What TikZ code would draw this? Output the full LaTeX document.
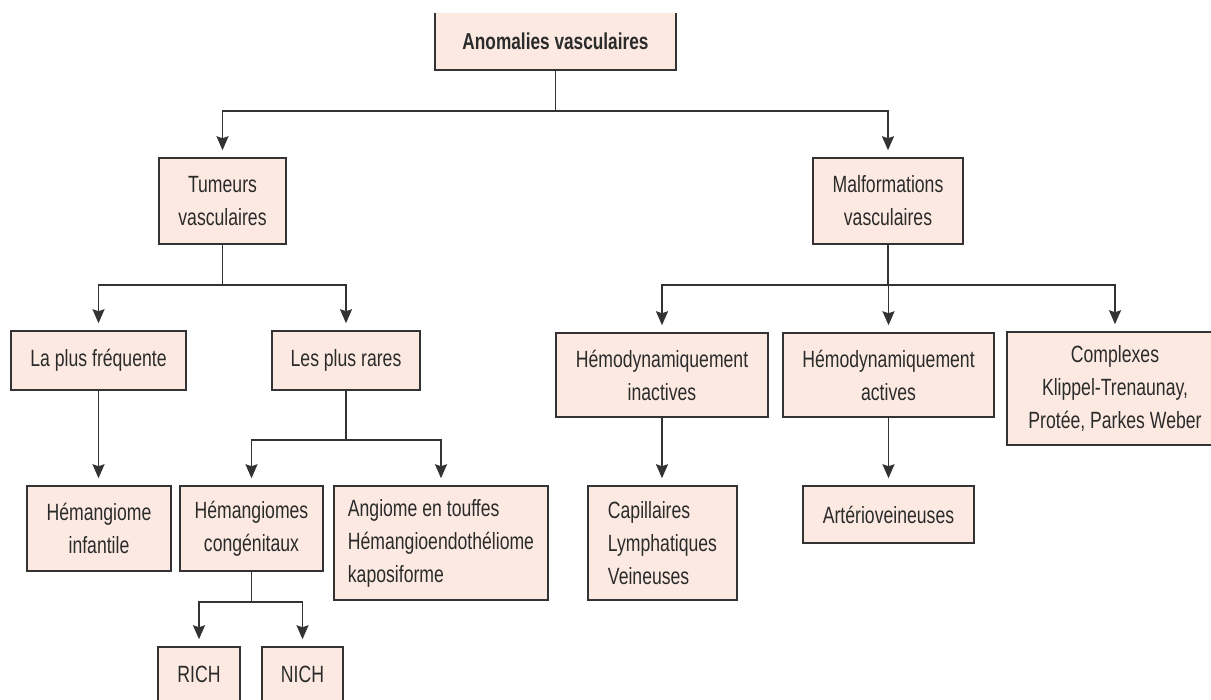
\documentclass[tikz,border=0pt]{standalone}
\usepackage{fontspec}
\setmainfont{Liberation Sans}[FakeStretch=0.75]
\usetikzlibrary{arrows.meta}
\definecolor{boxfill}{HTML}{FCEAE2}
\definecolor{linec}{HTML}{333333}
\definecolor{textc}{HTML}{2B2B2B}
\tikzset{
  box/.style={draw=linec, line width=1.5pt, fill=boxfill, text=textc, inner sep=0pt,
    align=center, font=\fontsize{23.5}{33}\selectfont},
  lbox/.style={box, align=left},
  conn/.style={draw=linec, line width=1.6pt},
  arr/.style={conn, -{Stealth[length=14pt,width=12pt,inset=2pt]}, shorten >=7pt},
}
\begin{document}
\begin{tikzpicture}[x=1pt,y=-1pt]
\useasboundingbox (0,0) rectangle (1211,700);

\begin{scope}
  \clip (0,14) rectangle (1211,700);
  \node[box, font=\fontsize{23}{33}\selectfont\bfseries, minimum width=241pt, minimum height=58pt] (top) at (555.5,41) {Anomalies vasculaires};
\end{scope}

\node[box, minimum width=127pt, minimum height=86pt] (tum) at (222.5,201) {Tumeurs\\vasculaires};
\node[box, minimum width=150pt, minimum height=86pt] (mal) at (888,201) {Malformations\\vasculaires};

\node[box, minimum width=175pt, minimum height=59pt] (freq) at (98.5,360.5) {La plus fréquente};
\node[box, minimum width=148pt, minimum height=59pt] (rares) at (346,360.5) {Les plus rares};
\node[box, minimum width=212pt, minimum height=84pt] (inact) at (662,375) {Hémodynamiquement\\inactives};
\node[box, minimum width=211pt, minimum height=84pt] (act) at (888.5,375) {Hémodynamiquement\\actives};
\node[box, minimum width=216pt, minimum height=113pt] (cplx) at (1115,388.5) {Complexes\\Klippel-Trenaunay,\\Protée, Parkes Weber};

\node[box, minimum width=144pt, minimum height=85pt] (infant) at (99,528.5) {Hémangiome\\infantile};
\node[box, minimum width=143pt, minimum height=85pt] (cong) at (251.5,528.5) {Hémangiomes\\congénitaux};
\node[lbox, minimum width=214pt, minimum height=114pt] (angi) at (441,543) {Angiome en touffes\\Hémangioendothéliome\\kaposiforme};
\node[lbox, minimum width=149pt, minimum height=114pt] (capil) at (662.5,543) {Capillaires\\Lymphatiques\\Veineuses};
\node[box, minimum width=171pt, minimum height=57pt] (arter) at (888.5,514.5) {Artérioveineuses};

\node[box, minimum width=82pt, minimum height=55pt] (rich) at (199,674.5) {RICH};
\node[box, minimum width=81pt, minimum height=55pt] (nich) at (302.5,674.5) {NICH};

% connectors
\path (top.south) ++(0,40) coordinate (j0);
\draw[conn] (top.south) -- (j0);
\draw[arr] (j0) -| (tum.north);
\draw[arr] (j0) -| (mal.north);

\path (tum.south) ++(0,40) coordinate (j1);
\draw[conn] (tum.south) -- (j1);
\draw[arr] (j1) -| (freq.north);
\draw[arr] (j1) -| (rares.north);

\path (mal.south) ++(0,40) coordinate (j2);
\draw[conn] (mal.south) -- (j2);
\draw[arr] (j2) -| (inact.north);
\draw[arr] (j2) -| (act.north);
\draw[arr] (j2) -| (cplx.north);

\draw[arr] (freq.south) -- (freq.south |- infant.north);

\path (rares.south) ++(0,49) coordinate (j3);
\draw[conn] (rares.south) -- (j3);
\draw[arr] (j3) -| (cong.north);
\draw[arr] (j3) -| (angi.north);

\draw[arr] (inact.south) -- (inact.south |- capil.north);
\draw[arr] (act.south) -- (act.south |- arter.north);

\path (cong.south) ++(0,30) coordinate (j4);
\draw[conn] (cong.south) -- (j4);
\draw[arr] (j4) -| (rich.north);
\draw[arr] (j4) -| (nich.north);
\end{tikzpicture}
\end{document}
